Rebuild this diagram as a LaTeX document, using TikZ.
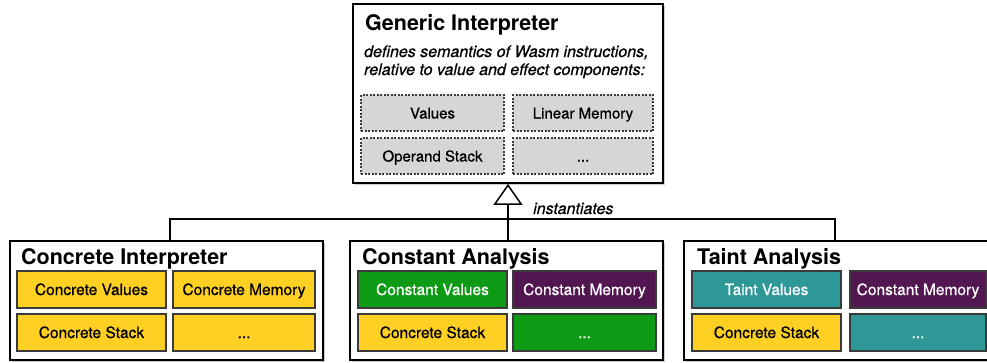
\documentclass[tikz,border=0pt]{standalone}
\usepackage{fontspec}
\setmainfont{TeX Gyre Heros}
\newfontfamily\mediumfont[FakeBold=0.7]{TeX Gyre Heros}
\usetikzlibrary{arrows.meta,shadows}

\definecolor{concreteYellow}{HTML}{FFD024}
\definecolor{constGreen}{HTML}{0D9A14}
\definecolor{constPurple}{HTML}{521650}
\definecolor{taintTeal}{HTML}{2E9898}
\definecolor{genericGray}{HTML}{D6D6D6}
\definecolor{edgeGray}{HTML}{3A3A3A}

\begin{document}
\begin{tikzpicture}[x=1pt,y=-1pt,
  outerbox/.style={draw,line width=1.8pt,fill=white,minimum width=#1,minimum height=119pt,inner sep=0pt,
    drop shadow={shadow xshift=2pt,shadow yshift=-2pt,opacity=.4}},
  genericbox/.style={draw=edgeGray,fill=genericGray,line width=1.1pt,dash pattern=on 2pt off 1.5pt,
    minimum width=#1,minimum height=36pt,inner sep=0pt,text height=11pt,text depth=0pt,
    font=\mediumfont\fontsize{15}{18}\selectfont},
  partbox/.style={draw=edgeGray,line width=1.1pt,minimum width=#1,minimum height=37pt,inner sep=0pt,
    text height=11pt,text depth=0pt,font=\mediumfont\fontsize{15.5}{18}\selectfont},
  boxtitle/.style={anchor=base west,inner sep=0pt,font=\fontsize{21.5}{24}\selectfont\bfseries},
  remark/.style={anchor=base west,inner sep=0pt,font=\mediumfont\fontsize{16}{18}\selectfont\itshape}]
  \useasboundingbox (0,0) rectangle (987,362);
  \clip (0,0) rectangle (987,362);

  % generic interpreter
  \node[outerbox=310pt,minimum height=179pt] (generic) at (508,93.5) {};
  \node[boxtitle] (genericTitle) at (365,30) {Generic Interpreter};
  \node[remark] (genericLineA) at (364,57) {defines semantics of Wasm instructions,};
  \node[remark] (genericLineB) at (364,75) {relative to value and effect components:};
  \node[genericbox=143pt] (values) at (432.5,113) {Values};
  \node[genericbox=140pt] (linearMemory) at (583,113) {Linear Memory};
  \node[genericbox=143pt] (operandStack) at (432.5,156) {Operand Stack};
  \node[genericbox=140pt] (genericMore) at (583,156) {...};

  % concrete interpreter
  \node[outerbox=313pt] (concrete) at (166.5,300.5) {};
  \node[boxtitle] (concreteTitle) at (21,264) {Concrete Interpreter};
  \node[partbox=149pt,fill=concreteYellow] (concreteValues) at (91.5,289.5) {Concrete Values};
  \node[partbox=142pt,fill=concreteYellow] (concreteMemory) at (244,289.5) {Concrete Memory};
  \node[partbox=149pt,fill=concreteYellow] (concreteStack) at (91.5,332.5) {Concrete Stack};
  \node[partbox=142pt,fill=concreteYellow] (concreteMore) at (244,332.5) {...};

  % constant analysis
  \node[outerbox=313pt] (constant) at (506.5,300.5) {};
  \node[boxtitle] (constantTitle) at (362,264) {Constant Analysis};
  \node[partbox=149pt,fill=constGreen,text=white] (constantValues) at (432.5,289.5) {Constant Values};
  \node[partbox=143pt,fill=constPurple,text=white] (constantMemory) at (584.5,289.5) {Constant Memory};
  \node[partbox=149pt,fill=concreteYellow] (constantStack) at (432.5,332.5) {Concrete Stack};
  \node[partbox=143pt,fill=constGreen,text=white] (constantMore) at (584.5,332.5) {...};

  % taint analysis
  \node[outerbox=313pt] (taint) at (840.5,300.5) {};
  \node[boxtitle] (taintTitle) at (697,264) {Taint Analysis};
  \node[partbox=149pt,fill=taintTeal,text=white] (taintValues) at (766.5,289.5) {Taint Values};
  \node[partbox=136pt,fill=constPurple,text=white] (taintMemory) at (918,289.5) {Constant Memory};
  \node[partbox=149pt,fill=concreteYellow] (taintStack) at (766.5,332.5) {Concrete Stack};
  \node[partbox=136pt,fill=taintTeal,text=white] (taintMore) at (918,332.5) {...};

  % instantiation
  \coordinate (joint) at (508,219);
  \draw[line width=1.5pt] ([xshift=3.5pt]concrete.north) |- (joint) -| ([xshift=-5.5pt]taint.north);
  \draw[line width=1.5pt,-{Triangle[open,length=21pt,width=29pt,line width=1.5pt]}]
    (generic.south |- constant.north) -- (generic.south);
  \node[remark] (instLabel) at (533,214) {instantiates};

\end{tikzpicture}
\end{document}
